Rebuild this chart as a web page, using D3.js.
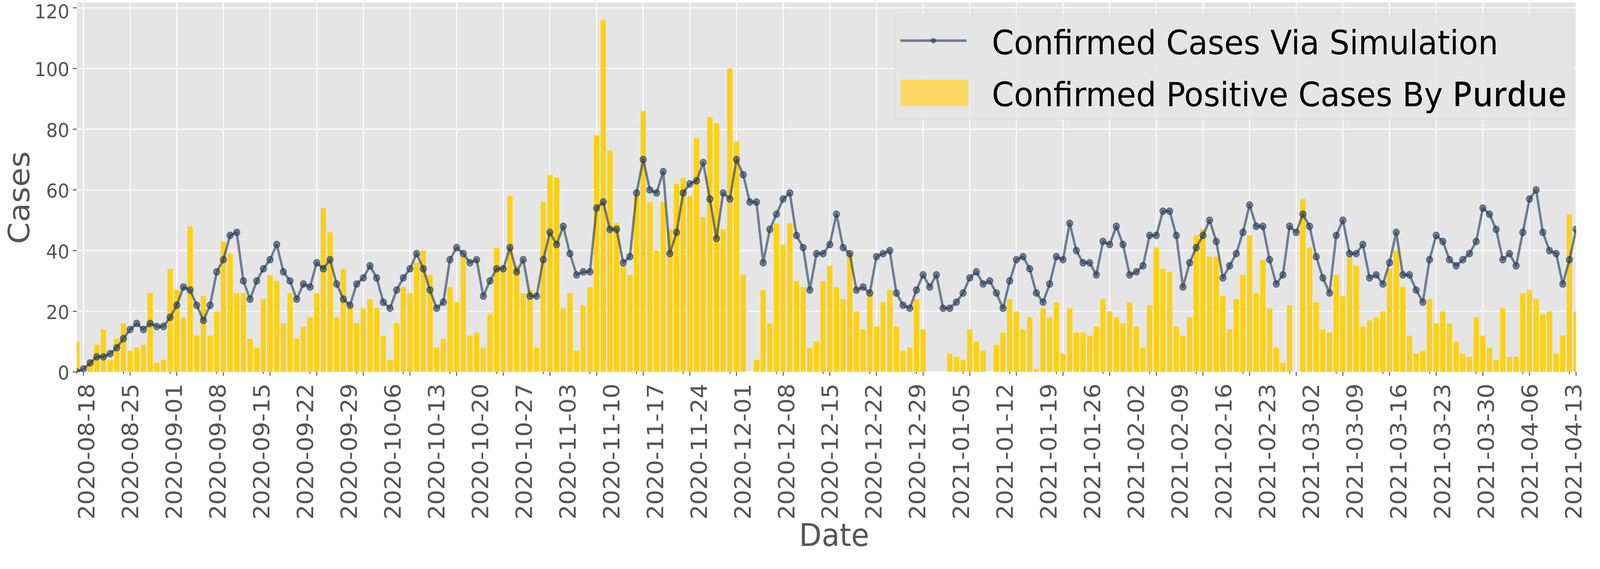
<!DOCTYPE html>
<meta charset="utf-8">
<style>
  html, body { margin: 0; padding: 0; background: #fff; overflow: hidden; }
  svg { display: block; width: 100vw; height: 100vh; }
  text { font-family: "DejaVu Sans", sans-serif; }
</style>
<body>
<script src="https://d3js.org/d3.v7.min.js"></script>
<script>

// daily positive cases reported (bars), one per reporting day
var purdueCases = [
  10,0,4,9,14,4,11,16,7,8,9,26,3,4,34,27,18,48,12,25,12,20,43,39,26,26,11,8,24,
  32,30,16,26,11,15,18,26,54,46,18,34,22,16,21,24,21,12,4,16,28,26,36,40,32,8,11,28,23,
  38,12,13,8,19,41,35,58,35,26,27,8,56,65,64,21,26,7,22,28,78,116,73,49,35,32,58,86,56,
  40,56,47,62,64,58,77,51,84,82,47,100,76,32,0,4,27,16,49,42,49,30,28,8,10,30,35,28,24,
  39,20,14,26,15,23,27,15,7,8,24,14,0,0,0,6,5,4,14,10,7,0,9,13,24,20,14,18,
  1,21,18,23,6,21,13,13,12,15,24,20,18,16,23,15,8,22,41,34,33,15,12,18,45,47,38,38,25,
  14,24,32,45,26,37,21,8,3,22,0,57,41,23,14,13,32,25,38,35,15,17,18,20,34,40,28,12,6,
  7,24,16,20,16,10,6,5,18,12,8,4,21,5,5,26,27,24,19,20,6,12,52,20
];

// simulated confirmed cases (line)
var simCases = [
  0,1,3,5,5,6,8,11,14,16,14,16,15,15,18,22,28,27,22,17,22,33,37,45,46,30,24,30,34,
  37,42,33,30,24,29,28,36,34,37,29,24,22,29,31,35,31,23,21,27,31,34,39,34,27,21,23,37,41,
  39,36,37,25,30,34,34,41,33,37,25,25,37,46,42,48,39,32,33,33,54,56,47,47,36,38,59,70,60,
  59,66,39,46,59,62,63,69,57,44,59,57,70,65,56,56,36,47,52,57,59,45,41,27,39,39,42,52,41,
  39,27,28,26,38,39,40,26,22,21,27,32,28,32,21,21,23,26,31,33,29,30,26,21,30,37,38,34,
  26,23,29,38,37,49,40,36,36,32,43,42,48,42,32,33,35,45,45,53,53,45,28,36,41,45,50,43,31,
  35,39,46,55,48,48,37,29,32,48,46,52,48,38,31,26,45,50,39,39,42,31,32,29,36,46,32,32,27,
  23,37,45,43,37,35,37,39,43,54,52,47,37,39,35,46,57,60,46,40,39,29,37,47
];

var dateLabels = [
  "2020-08-18","2020-08-25","2020-09-01","2020-09-08","2020-09-15","2020-09-22",
  "2020-09-29","2020-10-06","2020-10-13","2020-10-20","2020-10-27","2020-11-03",
  "2020-11-10","2020-11-17","2020-11-24","2020-12-01","2020-12-08","2020-12-15",
  "2020-12-22","2020-12-29","2021-01-05","2021-01-12","2021-01-19","2021-01-26",
  "2021-02-02","2021-02-09","2021-02-16","2021-02-23","2021-03-02","2021-03-09",
  "2021-03-16","2021-03-23","2021-03-30","2021-04-06","2021-04-13"
];

var dateRange = ["2020-08-17", "2021-04-14"];
var yTicks = [0, 20, 40, 60, 80, 100, 120];

var width = 4354,
    height = 1457,
    plotLeft = 209,
    plotRight = 4289,
    plotTop = 6,
    plotBottom = 952.5;

var parse = d3.utcParse("%Y-%m-%d");

var svg = d3.select("body").append("svg")
  .attr("viewBox", "0 0 " + width + " " + height)
  .attr("preserveAspectRatio", "none");

var x = d3.scaleLinear()
  .domain([0, purdueCases.length - 1])
  .range([plotLeft, plotRight]);

var xDate = d3.scaleUtc()
  .domain(dateRange.map(parse))
  .range([plotLeft + 10, plotRight + 10]);

var y = d3.scaleLinear()
  .domain([0, 121.8])
  .range([plotBottom, plotTop]);

svg.append("defs").append("clipPath")
  .attr("id", "plot")
  .append("rect")
    .attr("x", plotLeft)
    .attr("y", plotTop)
    .attr("width", plotRight - plotLeft)
    .attr("height", plotBottom - plotTop);

svg.append("rect")
  .attr("x", plotLeft)
  .attr("y", plotTop)
  .attr("width", plotRight - plotLeft)
  .attr("height", plotBottom - plotTop)
  .attr("fill", "#e5e5e5");

// grid: horizontal at y ticks, vertical every 7th bar
var gridIdx = d3.range(1, purdueCases.length, 7);

svg.append("g")
  .selectAll("line")
  .data(yTicks)
  .enter().append("line")
    .attr("x1", plotLeft).attr("x2", plotRight)
    .attr("y1", y).attr("y2", y)
    .attr("stroke", "#fff")
    .attr("stroke-width", 2.5);

svg.append("g")
  .selectAll("line")
  .data(gridIdx)
  .enter().append("line")
    .attr("x1", x).attr("x2", x)
    .attr("y1", plotTop).attr("y2", plotBottom)
    .attr("stroke", "#fff")
    .attr("stroke-width", 2.5);

var plot = svg.append("g").attr("clip-path", "url(#plot)");

var bw = (x(1) - x(0)) * 0.8;

plot.selectAll("rect.bar")
  .data(purdueCases)
  .enter().append("rect")
    .attr("class", "bar")
    .attr("x", function(d, i) { return x(i) - bw / 2; })
    .attr("y", function(d) { return y(d); })
    .attr("width", bw)
    .attr("height", function(d) { return plotBottom - y(d); })
    .attr("fill", "#fcd116");

var line = d3.line()
  .x(function(d, i) { return x(i); })
  .y(function(d) { return y(d); });

plot.append("path")
  .datum(simCases)
  .attr("d", line)
  .attr("fill", "none")
  .attr("stroke", "#1f3556")
  .attr("stroke-opacity", 0.6)
  .attr("stroke-width", 6.5)
  .attr("stroke-linejoin", "round");

plot.selectAll("circle")
  .data(simCases)
  .enter().append("circle")
    .attr("cx", function(d, i) { return x(i); })
    .attr("cy", function(d) { return y(d); })
    .attr("r", 8.5)
    .attr("fill", "#1f3556")
    .attr("fill-opacity", 0.55)
    .attr("stroke", "#1f3556")
    .attr("stroke-opacity", 0.6)
    .attr("stroke-width", 2.5);

// y axis
var yAxis = svg.append("g");

yAxis.selectAll("line")
  .data(yTicks)
  .enter().append("line")
    .attr("x1", plotLeft - 11).attr("x2", plotLeft)
    .attr("y1", y).attr("y2", y)
    .attr("stroke", "#555")
    .attr("stroke-width", 2.5);

// top label sits against the edge, keep it just inside
yAxis.selectAll("text")
  .data(yTicks)
  .enter().append("text")
    .attr("x", plotLeft - 20)
    .attr("y", function(d) { return Math.max(y(d), 27); })
    .attr("dy", "0.4em")
    .attr("text-anchor", "end")
    .attr("fill", "#555")
    .style("font-size", "50px")
    .text(function(d) { return d; });

// x axis ticks: major at grid lines, minor one bar before
var xAxis = svg.append("g");

xAxis.selectAll("line.major")
  .data(gridIdx)
  .enter().append("line")
    .attr("class", "major")
    .attr("x1", x).attr("x2", x)
    .attr("y1", plotBottom).attr("y2", plotBottom + 10)
    .attr("stroke", "#555")
    .attr("stroke-width", 2.5);

xAxis.selectAll("line.minor")
  .data(d3.range(0, purdueCases.length, 7))
  .enter().append("line")
    .attr("class", "minor")
    .attr("x1", x).attr("x2", x)
    .attr("y1", plotBottom).attr("y2", plotBottom + 5)
    .attr("stroke", "#555")
    .attr("stroke-width", 2.5);

xAxis.selectAll("text")
  .data(dateLabels)
  .enter().append("text")
    .attr("transform", function(d) {
      return "translate(" + xDate(parse(d)) + "," + 982 + ") rotate(-90)";
    })
    .attr("dy", "0.36em")
    .attr("text-anchor", "end")
    .attr("fill", "#555")
    .style("font-size", "60px")
    .text(function(d) { return d; });

svg.append("text")
  .attr("transform", "translate(51,506) rotate(-90)")
  .attr("dy", "0.36em")
  .attr("text-anchor", "middle")
  .attr("fill", "#555")
  .style("font-size", "80px")
  .text("Cases");

svg.append("text")
  .attr("x", 2270)
  .attr("y", 1369)
  .attr("dy", "0.36em")
  .attr("text-anchor", "middle")
  .attr("fill", "#555")
  .style("font-size", "80px")
  .text("Date");

// legend
var legend = svg.append("g");

legend.append("rect")
  .attr("x", 2435)
  .attr("y", 37)
  .attr("width", 1845)
  .attr("height", 268)
  .attr("rx", 10)
  .attr("fill", "#e5e5e5")
  .attr("fill-opacity", 0.85)
  .attr("stroke", "#cfcfcf")
  .attr("stroke-opacity", 0.7)
  .attr("stroke-width", 1.5);

legend.append("line")
  .attr("x1", 2450).attr("x2", 2630)
  .attr("y1", 104).attr("y2", 104)
  .attr("stroke", "#1f3556")
  .attr("stroke-opacity", 0.6)
  .attr("stroke-width", 6.5);

legend.append("circle")
  .attr("cx", 2540)
  .attr("cy", 104)
  .attr("r", 7)
  .attr("fill", "#1f3556")
  .attr("fill-opacity", 0.6);

legend.append("rect")
  .attr("x", 2451)
  .attr("y", 204)
  .attr("width", 184)
  .attr("height", 68)
  .attr("fill", "#fdd862");

var t1 = legend.append("text")
  .attr("x", 2699)
  .attr("y", 139)
  .attr("fill", "#000")
  .style("font-size", "86px")
  .text("Confirmed Cases Via Simulation");

var fs = 86 * 1378 / t1.node().getComputedTextLength();
t1.style("font-size", fs + "px");

legend.append("text")
  .attr("x", 2699)
  .attr("y", 272)
  .attr("fill", "#000")
  .style("font-size", fs + "px")
  .text("Confirmed Positive Cases By");

legend.append("text")
  .attr("x", 3953)
  .attr("y", 272)
  .attr("fill", "#000")
  .attr("textLength", 310)
  .attr("lengthAdjust", "spacing")
  .style("font-family", "'Noto Sans', sans-serif")
  .style("font-weight", 500)
  .style("font-size", fs * 1.02 + "px")
  .text("Purdue");

</script>
</body>
